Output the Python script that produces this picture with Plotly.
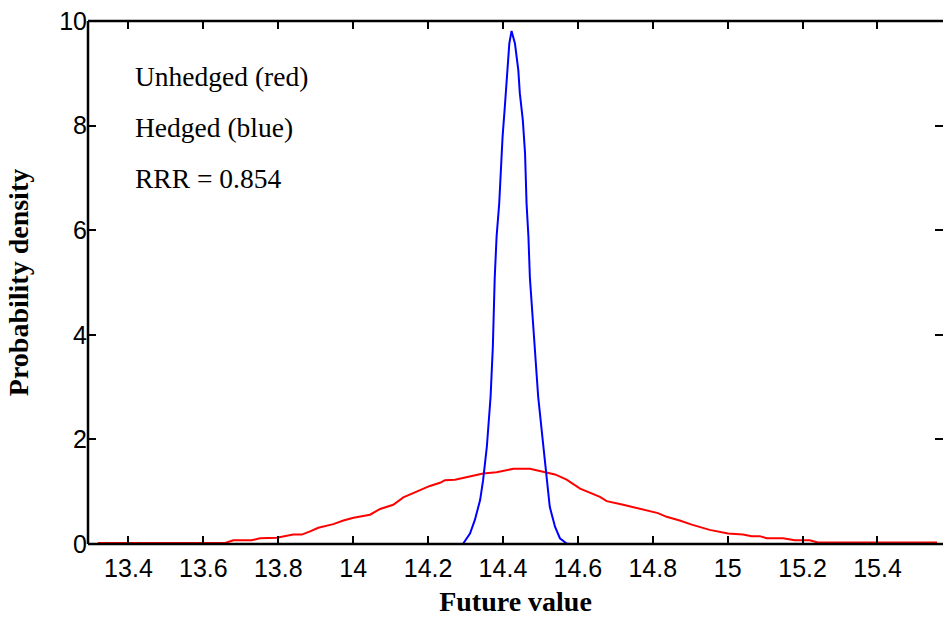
import plotly.graph_objects as go

# Unhedged (red) density
red_x = [13.318, 13.658, 13.680, 13.729, 13.751, 13.796, 13.840, 13.863, 13.885, 13.907,
         13.947, 13.974, 14.001, 14.045, 14.072, 14.107, 14.134, 14.170, 14.205, 14.232,
         14.245, 14.272, 14.312, 14.347, 14.383, 14.428, 14.472, 14.499, 14.539, 14.570,
         14.606, 14.659, 14.677, 14.721, 14.774, 14.814, 14.837, 14.872, 14.904, 14.952,
         15.001, 15.041, 15.064, 15.086, 15.104, 15.148, 15.179, 15.219, 15.241, 15.559]
red_y = [0.02, 0.02, 0.07, 0.07, 0.11, 0.12, 0.18, 0.18, 0.24, 0.31,
         0.38, 0.45, 0.50, 0.56, 0.67, 0.75, 0.89, 1.00, 1.11, 1.17,
         1.22, 1.23, 1.30, 1.35, 1.37, 1.44, 1.44, 1.39, 1.33, 1.23,
         1.06, 0.90, 0.82, 0.75, 0.66, 0.59, 0.52, 0.45, 0.37, 0.27,
         0.20, 0.18, 0.15, 0.15, 0.11, 0.11, 0.07, 0.07, 0.03, 0.03]

# Hedged (blue) density
blue_x = [14.293, 14.312, 14.325, 14.339, 14.347, 14.357, 14.367, 14.373, 14.378, 14.383,
          14.390, 14.394, 14.399, 14.405, 14.410, 14.417, 14.423, 14.432, 14.441, 14.445,
          14.453, 14.459, 14.463, 14.468, 14.472, 14.485, 14.494, 14.508, 14.518, 14.525,
          14.539, 14.552, 14.570, 14.579]
blue_y = [0.00, 0.20, 0.46, 0.84, 1.22, 1.86, 2.82, 3.77, 5.08, 5.88,
          6.51, 7.15, 7.79, 8.36, 8.94, 9.57, 9.81, 9.57, 9.06, 8.62,
          8.11, 7.47, 6.51, 5.88, 5.08, 3.77, 2.82, 1.86, 1.22, 0.71,
          0.33, 0.11, 0.01, 0.00]

x_ticks = [13.4, 13.6, 13.8, 14.0, 14.2, 14.4, 14.6, 14.8, 15.0, 15.2, 15.4]
x_tick_text = ["13.4", "13.6", "13.8", "14", "14.2", "14.4", "14.6", "14.8", "15", "15.2", "15.4"]
y_ticks = [0, 2, 4, 6, 8, 10]

notes = ["Unhedged (red)", "Hedged (blue)", "RRR = 0.854"]
note_y = [8.93, 7.96, 6.98]

fig = go.Figure()
fig.add_trace(go.Scatter(x=red_x, y=red_y, mode="lines",
                         line=dict(color="#ff0000", width=2), showlegend=False))
fig.add_trace(go.Scatter(x=blue_x, y=blue_y, mode="lines",
                         line=dict(color="#0000ff", width=2), showlegend=False))

for t, yy in zip(notes, note_y):
    fig.add_annotation(x=13.412, y=yy, text=t, showarrow=False, xanchor="left",
                       yanchor="middle",
                       font=dict(family="Liberation Serif", size=27.5, color="black"))

axis_common = dict(showgrid=False, zeroline=False, showline=False,
                   ticks="inside", ticklen=8, tickwidth=2, tickcolor="black",
                   mirror="ticks",
                   tickfont=dict(family="Liberation Sans", size=25, color="black"))

fig.update_xaxes(range=[13.292, 15.575], tickvals=x_ticks, ticktext=x_tick_text,
                 ticklabelstandoff=7,
                 title=dict(text="<b>Future value</b>", standoff=11,
                            font=dict(family="Liberation Serif", size=28, color="black")),
                 **axis_common)
fig.update_yaxes(range=[0, 10], tickvals=y_ticks,
                 title=dict(text="<b>Probability density</b>", standoff=22,
                            font=dict(family="Liberation Serif", size=28, color="black")),
                 **axis_common)

# axes box (left, bottom, top)
for x0, y0, x1, y1 in [(0, 0, 0, 1), (0, 0, 1, 0), (0, 1, 1, 1)]:
    fig.add_shape(type="line", xref="paper", yref="paper", x0=x0, y0=y0, x1=x1, y1=y1,
                  line=dict(color="black", width=2.5), layer="above")

fig.update_layout(width=943, height=617,
                  margin=dict(l=88, r=0, t=21, b=73),
                  paper_bgcolor="white", plot_bgcolor="white")

fig.write_html("out.html", config={"displayModeBar": False},
               post_script="document.body.style.margin='0';")
